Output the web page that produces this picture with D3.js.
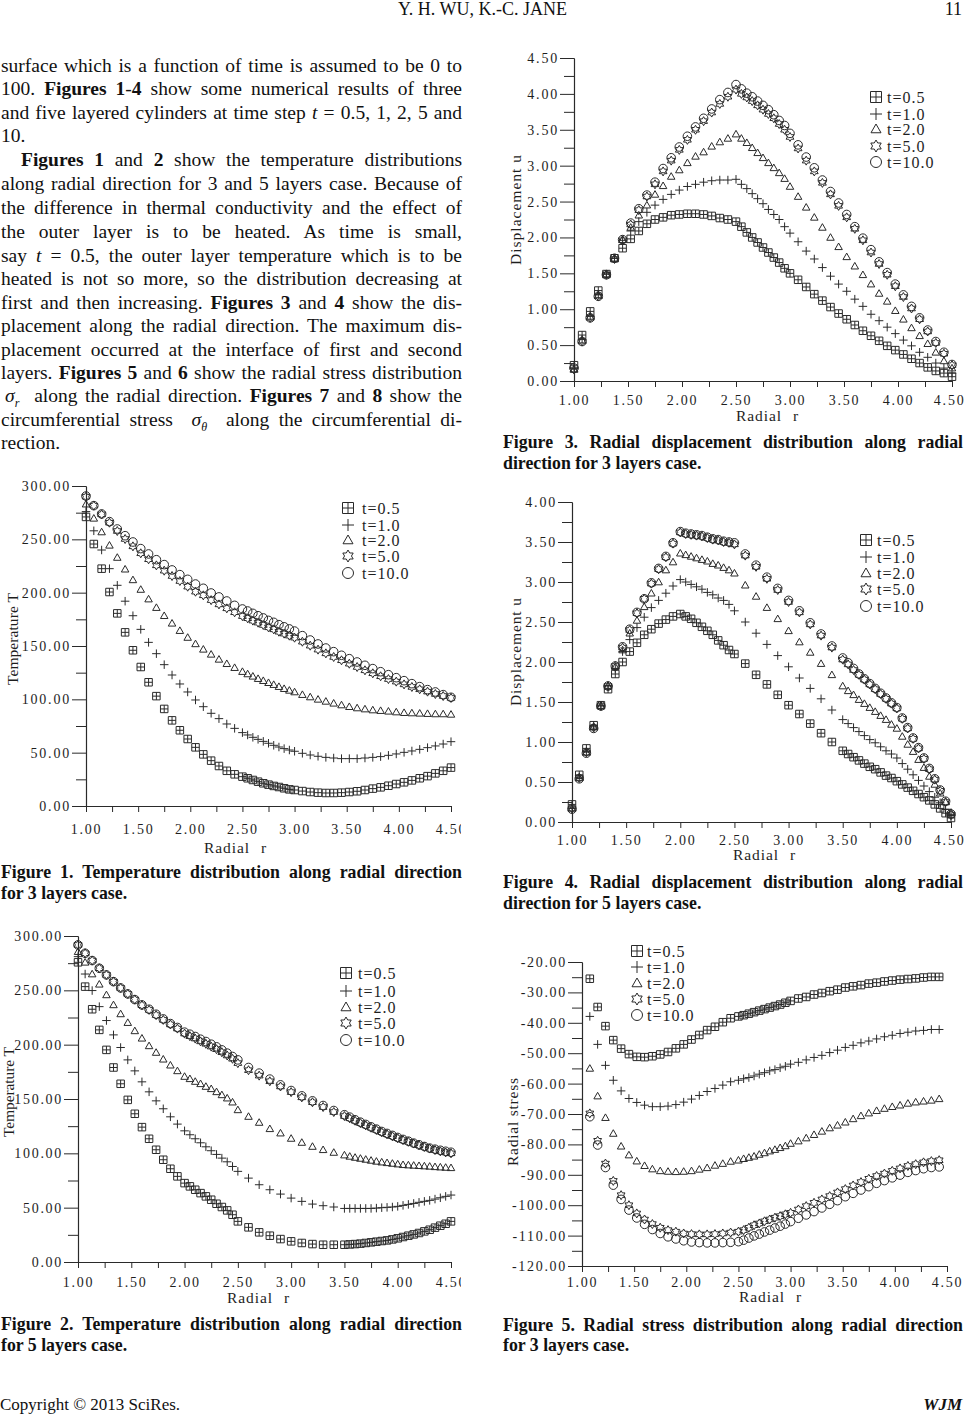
<!DOCTYPE html>
<html><head><meta charset="utf-8">
<script src="https://cdn.jsdelivr.net/npm/d3@7"></script>
<style>
html,body{margin:0;padding:0;background:#fff;}
#page{position:relative;width:966px;height:1414px;overflow:hidden;font-family:"Liberation Serif","Times New Roman",serif;color:#111;background:#fff;}
#page div.tl{position:absolute;white-space:pre;}
</style></head>
<body><div id="page"></div>
<script>
// ---------------- DATA ----------------
const seriesLabels = ["t=0.5","t=1.0","t=2.0","t=5.0","t=10.0"];
const markerTypes  = ["boxplus","plus","tri","star","circ"];

const xMajorTicks = [1.0,1.5,2.0,2.5,3.0,3.5,4.0,4.5];
const xMinorTicks = [1.25,1.75,2.25,2.75,3.25,3.75,4.25];
const tempMajorTicks = [0,50,100,150,200,250,300];
const tempMinorTicks = [25,75,125,175,225,275];
const disp3MajorTicks = [0,0.5,1.0,1.5,2.0,2.5,3.0,3.5,4.0,4.5];
const disp3MinorTicks = [0.25,0.75,1.25,1.75,2.25,2.75,3.25,3.75,4.25];
const disp5MajorTicks = [0,0.5,1.0,1.5,2.0,2.5,3.0,3.5,4.0];
const disp5MinorTicks = [0.25,0.75,1.25,1.75,2.25,2.75,3.25,3.75];
const stressMajorTicks = [-120,-110,-100,-90,-80,-70,-60,-50,-40,-30,-20];
const stressMinorTicks = [-115,-105,-95,-85,-75,-65,-55,-45,-35,-25];

// radial node positions (3-layer and 5-layer meshes)
const r3 = [1.000,1.075,1.150,1.225,1.300,1.375,1.450,1.525,1.600,1.675,1.750,1.825,1.900,1.975,2.050,2.125,2.200,2.275,2.350,2.425,2.500,
  2.55,2.60,2.65,2.70,2.75,2.80,2.85,2.90,2.95,3.00,
  3.075,3.150,3.225,3.300,3.375,3.450,3.525,3.600,3.675,3.750,3.825,3.900,3.975,4.050,4.125,4.200,4.275,4.350,4.425,4.500];
const r5 = [1.000,1.067,1.133,1.200,1.267,1.333,1.400,1.467,1.533,1.600,1.667,1.733,1.800,1.867,1.933,2.000,
  2.05,2.10,2.15,2.20,2.25,2.30,2.35,2.40,2.45,2.50,
  2.6,2.7,2.8,2.9,3.0,3.1,3.2,3.3,3.4,3.5,
  3.55,3.60,3.65,3.70,3.75,3.80,3.85,3.90,3.95,4.00,
  4.05,4.10,4.15,4.20,4.25,4.30,4.35,4.40,4.45,4.50];
const r3s = [1.075,1.150,1.225,1.300,1.375,1.450,1.525,1.600,1.675,1.750,1.825,1.900,1.975,2.050,2.125,2.200,2.275,2.350,2.425,2.500,
  2.55,2.60,2.65,2.70,2.75,2.80,2.85,2.90,2.95,3.00,
  3.075,3.150,3.225,3.300,3.375,3.450,3.525,3.600,3.675,3.750,3.825,3.900,3.975,4.050,4.125,4.200,4.275,4.350,4.425];

// Figure 1: temperature, 3 layers
const fig1T05 = [271,245.6,222.5,200.6,180.6,162.8,146,130.3,116,103,91,80.3,71,62.8,55,48.4,42.5,37.5,33,29.7,27.5,
  26,24.4,22.8,21.3,20,18.8,17.8,16.6,15.6,15,
  14,13.1,12.5,12.2,12.2,12.5,13.1,13.8,15,16.3,17.5,19,20.6,22.2,24,26,28,30.6,33,36];
const fig1T1 = [276,258,240,222.5,206.9,192,178.4,165.6,153.4,142.8,132.5,122.8,114.4,106.9,99.4,93.1,86.9,81.9,76.9,72.8,68.8,
  66.6,64.4,62.5,60.6,58.8,56.9,55.3,53.8,52.5,51.3,
  49.4,47.8,46.6,45.6,45,44.4,44.4,44.4,45,45.6,46.3,47.5,48.8,50.3,51.6,53.1,54.7,56.3,58.1,60.3];
const fig1T2 = [283,269.7,256.9,244.4,233,222,212,203,194,186,178.4,171.3,164.4,158,152,146.9,142.2,137.5,133.4,129.7,126,
  123.8,121.6,119.4,117.5,115.6,113.8,111.9,110,108.4,106.9,
  104.4,102.2,100,98.1,96.3,94.7,93.1,91.9,90.9,90,89.4,88.8,88.1,87.5,87.2,86.9,86.6,86.3,86.3,85.9];
const fig1T5 = [290,281.6,273.4,265.6,257.8,250.3,243.4,236.9,231.3,225.6,220.6,215.6,210.9,205.6,200.9,197.5,193,189,185.3,181.6,178,
  176,173.8,171.9,169.7,167.5,165.6,163.4,161.6,159.7,157.8,
  154,150.3,146.6,143.1,139.7,136.6,133.4,130.3,127.2,124.4,121.6,119,116.6,114,111.6,109.4,107.2,105,103.1,101.3];
const fig1T10 = [290.6,281.6,273.8,266.6,259.7,253.4,247.5,241.3,236.3,230.9,226.3,221.3,216.9,212.5,208.1,204.1,199.7,196,192.2,188.1,184.7,
  182.8,180.6,178.4,176.3,174,172.2,170,168,166,164,
  159.7,155.6,151.9,148.1,144.7,141.3,138.1,135,131.9,128.8,125.9,123.1,120.3,117.5,114.7,111.9,109.1,106.9,104.4,101.9];

// Figure 2: temperature, 5 layers
const fig2T05 = [275.8,253.4,232.6,213.6,195.2,179,164,149.2,136.4,124.1,113.4,103.3,94.1,85.8,78.8,72.6,
  69.6,66.5,63.4,60.4,57.3,53.6,50.6,47.5,43.5,37.4,
  31.9,27.3,24.2,21.1,19,17.5,16.5,15.9,15.9,15.9,
  16.2,16.5,16.9,17.5,18.1,18.7,19.3,19.9,20.8,21.8,
  23,24.2,25.4,26.7,28.2,29.7,31.6,33.4,35.2,37.4];
const fig2T1 = [281,265,249.8,235,222.2,209,197.4,186,175.9,165.8,156.6,148.3,141,133.6,126.9,120.7,
  117.1,113.4,109.7,106,102.4,99,95.6,92.2,87.9,83.4,
  77.2,71.1,66.5,62.5,58.8,55.8,53.3,51.8,50.6,49.3,
  49.3,49.3,49.3,49.3,49.3,49.6,50,50.3,50.6,51.2,
  52.1,53,53.9,54.9,55.8,56.7,57.9,59.1,60.4,61.6];
const fig2T2 = [285.6,275.8,265,255.6,245.8,236.6,228.3,220.3,212.7,205.9,198.9,192.8,186.6,181.1,175.9,170.7,
  168.6,166.1,164,161.5,159.4,156.6,153.8,150.8,147.1,140,
  133.9,128.4,122.6,118.6,113.7,110,106.3,103.3,100.8,98.4,
  97.2,96.2,95.3,94.4,93.5,92.6,91.9,91.3,90.7,90.1,
  89.5,89.2,88.9,88.6,88.3,88,87.6,87.3,87,86.7];
const fig2T5 = [291.8,284.1,277.4,270.3,264.2,258,252.2,246.7,241.5,236.3,232,227.2,222.8,218.6,214.8,210.2,
  207.8,205.6,203,200.8,198.2,195.8,193,190,187,183,
  176.5,171.5,166.3,161.5,156.3,151.5,147,142.6,138,134.3,
  132.2,130,127.8,125.7,123.6,121.5,119.4,117.5,115.7,113.9,
  112.2,110.6,109,107.4,105.9,104.4,103,101.8,100.8,100];
const fig2T10 = [291.8,284.1,277.4,270.3,264.2,258,252.2,246.7,241.5,236.6,232.6,228,223.7,219.4,215.8,211.5,
  209.6,207.5,205,202.9,200.4,198,195.2,192.2,189.1,186,
  179,173.8,168.3,163,157.8,152.9,148.3,144,139.4,135.5,
  133.3,130.9,128.7,126.6,124.4,122.3,120.1,118.3,116.5,114.6,
  112.8,111.2,109.4,107.9,106.3,104.8,103.8,102.8,101.9,101];

// Figure 3: displacement, 3 layers
const fig3U05 = [0.22,0.64,0.97,1.26,1.49,1.71,1.85,1.98,2.09,2.19,2.25,2.28,2.31,2.32,2.33,2.33,2.32,2.30,2.27,2.25,2.22,
  2.15,2.07,2.00,1.93,1.86,1.79,1.72,1.65,1.57,1.50,
  1.41,1.31,1.21,1.12,1.03,0.94,0.86,0.78,0.70,0.63,0.56,0.49,0.43,0.37,0.31,0.25,0.19,0.14,0.11,0.06];
const fig3U1 = [0.17,0.58,0.90,1.20,1.49,1.71,1.96,2.09,2.22,2.35,2.45,2.53,2.60,2.66,2.71,2.74,2.77,2.79,2.80,2.80,2.81,
  2.74,2.68,2.61,2.54,2.47,2.39,2.32,2.25,2.15,2.06,
  1.94,1.81,1.70,1.58,1.46,1.35,1.25,1.14,1.04,0.93,0.84,0.75,0.66,0.57,0.49,0.40,0.33,0.25,0.18,0.11];
const fig3U2 = [0.16,0.57,0.90,1.20,1.49,1.71,1.97,2.14,2.31,2.45,2.60,2.72,2.85,2.94,3.04,3.13,3.19,3.27,3.33,3.38,3.44,
  3.38,3.32,3.25,3.18,3.11,3.04,2.97,2.90,2.82,2.71,
  2.57,2.42,2.28,2.14,2.00,1.87,1.73,1.60,1.48,1.35,1.22,1.11,0.98,0.86,0.74,0.63,0.52,0.40,0.28,0.18];
const fig3U5 = [0.16,0.55,0.88,1.18,1.48,1.70,1.96,2.18,2.38,2.57,2.74,2.92,3.07,3.22,3.36,3.50,3.62,3.74,3.86,3.96,4.06,
  4.00,3.95,3.90,3.84,3.78,3.72,3.66,3.58,3.50,3.40,
  3.24,3.07,2.92,2.76,2.60,2.44,2.28,2.12,1.96,1.79,1.63,1.48,1.32,1.17,1.01,0.86,0.69,0.53,0.38,0.22];
const fig3U10 = [0.18,0.55,0.88,1.18,1.48,1.71,1.97,2.20,2.40,2.59,2.77,2.96,3.11,3.26,3.41,3.54,3.66,3.79,3.92,4.02,4.13,
  4.07,4.01,3.96,3.90,3.84,3.78,3.71,3.63,3.56,3.45,
  3.29,3.12,2.97,2.80,2.64,2.48,2.32,2.15,1.99,1.83,1.66,1.51,1.35,1.20,1.04,0.88,0.71,0.55,0.40,0.23];

// Figure 4: displacement, 5 layers
const fig4U05 = [0.22,0.59,0.92,1.21,1.46,1.66,1.85,2.00,2.13,2.24,2.34,2.41,2.48,2.53,2.57,2.60,
  2.57,2.54,2.49,2.44,2.39,2.34,2.27,2.21,2.15,2.10,
  1.98,1.84,1.72,1.59,1.46,1.35,1.23,1.11,1.00,0.89,
  0.85,0.81,0.77,0.73,0.69,0.66,0.62,0.58,0.55,0.51,
  0.47,0.43,0.39,0.35,0.31,0.27,0.22,0.17,0.11,0.05];
const fig4U1 = [0.17,0.56,0.88,1.19,1.45,1.70,1.92,2.13,2.28,2.43,2.56,2.68,2.77,2.86,2.95,3.03,
  3.00,2.97,2.94,2.91,2.87,2.84,2.80,2.77,2.72,2.64,
  2.50,2.36,2.22,2.08,1.94,1.80,1.67,1.54,1.40,1.28,
  1.23,1.18,1.13,1.08,1.03,0.99,0.94,0.89,0.85,0.80,
  0.73,0.66,0.59,0.52,0.45,0.38,0.31,0.24,0.16,0.08];
const fig4U2 = [0.17,0.55,0.87,1.19,1.45,1.70,1.94,2.15,2.36,2.52,2.69,2.86,3.00,3.15,3.25,3.36,
  3.34,3.32,3.30,3.28,3.26,3.23,3.21,3.18,3.15,3.11,
  2.96,2.82,2.68,2.54,2.39,2.25,2.12,1.98,1.84,1.70,
  1.64,1.59,1.53,1.48,1.43,1.38,1.33,1.28,1.22,1.17,
  1.07,0.97,0.88,0.78,0.68,0.57,0.47,0.36,0.25,0.12];
const fig4U5 = [0.17,0.55,0.87,1.18,1.45,1.70,1.95,2.18,2.40,2.61,2.79,2.98,3.16,3.31,3.48,3.62,
  3.60,3.59,3.58,3.57,3.55,3.53,3.52,3.50,3.49,3.47,
  3.33,3.19,3.04,2.90,2.75,2.62,2.47,2.33,2.18,2.03,
  1.97,1.90,1.84,1.78,1.72,1.66,1.60,1.54,1.48,1.42,
  1.29,1.17,1.04,0.92,0.79,0.66,0.53,0.39,0.25,0.09];
const fig4U10 = [0.16,0.54,0.86,1.17,1.45,1.70,1.95,2.19,2.41,2.62,2.79,2.99,3.17,3.32,3.49,3.63,
  3.61,3.60,3.59,3.58,3.56,3.54,3.53,3.51,3.50,3.49,
  3.35,3.21,3.06,2.92,2.77,2.64,2.49,2.35,2.20,2.05,
  1.99,1.92,1.85,1.79,1.73,1.67,1.61,1.55,1.49,1.43,
  1.30,1.18,1.05,0.93,0.80,0.67,0.54,0.40,0.26,0.10];

// Figure 5: radial stress, 3 layers
const fig5S05 = [-25.5,-34.8,-41.1,-45.7,-48.5,-50.3,-51.2,-51.3,-51,-50.4,-49.6,-48.4,-47.1,-45.5,-44,-42.4,-41.3,-39.8,-38.5,-37.9,
  -37.5,-37,-36.5,-36,-35.5,-35,-34.5,-34,-33.4,-32.8,
  -32,-31.5,-30.7,-30.2,-29.6,-29.1,-28.4,-28,-27.6,-27.1,-26.8,-26.4,-26.1,-25.8,-25.6,-25.4,-25.1,-24.9,-24.9];
const fig5S1 = [-37.9,-47.1,-54,-58.9,-62.4,-64.9,-66.2,-67.1,-67.6,-67.6,-67.4,-66.9,-66.1,-65.1,-63.9,-62.6,-61.6,-60.5,-59.4,-58.9,
  -58.4,-58,-57.5,-56.9,-56.4,-55.8,-55.4,-54.8,-54.3,-53.6,
  -53,-52.2,-51.4,-50.7,-49.8,-49,-48.1,-47.4,-46.6,-46,-45.3,-44.6,-44.1,-43.5,-43.1,-42.7,-42.5,-42.2,-42.2];
const fig5S2 = [-55,-64.1,-71.2,-76.4,-80.6,-83.5,-85.5,-87,-88.1,-88.7,-88.9,-89,-88.9,-88.7,-88.2,-87.7,-86.9,-86.3,-85.6,-85.2,
  -84.7,-84.3,-83.9,-83.3,-82.8,-82.2,-81.7,-81.1,-80.5,-79.7,
  -78.9,-77.9,-76.8,-75.7,-74.6,-73.7,-72.7,-71.6,-70.6,-69.7,-68.9,-68.2,-67.6,-67.1,-66.5,-66.1,-65.8,-65.5,-65];
const fig5S5 = [-69.8,-78.8,-86.3,-92,-96.7,-100,-102.7,-104.7,-106.2,-107.4,-108.2,-108.7,-109.3,-109.5,-109.6,-109.6,-109.5,-109.3,-109,-108.7,
  -108.2,-107.4,-106.6,-106,-105.3,-104.7,-104.1,-103.6,-103,-102.5,
  -101.4,-100.3,-99.2,-98.1,-97,-95.8,-94.7,-93.5,-92.4,-91.3,-90.4,-89.6,-88.7,-87.9,-87.1,-86.5,-85.9,-85.5,-85.2];
const fig5S10 = [-70.9,-80.2,-87.6,-93.4,-98.1,-101.6,-104.2,-106.3,-108,-109.3,-110.4,-111.1,-111.7,-112.1,-112.3,-112.4,-112.4,-112.3,-112.2,-112,
  -111.5,-110.8,-110.1,-109.5,-108.8,-108.2,-107.5,-106.9,-106.2,-105.4,
  -104.3,-103.2,-102.1,-100.9,-99.7,-98.5,-97.2,-96.1,-95,-93.9,-92.8,-91.9,-91,-90.1,-89.2,-88.6,-88,-87.6,-87.4];

// ---------------- TEXT ----------------
const headerText = "Y. H. WU, K.-C. JANE";
const pageNumber = "11";
const footerLeft = "Copyright \u00A9 2013 SciRes.";
const footerRight = "WJM";

const bodyLines = [
  {y:72,  x:1, w:461, j:true, segs:[["surface which is a function of time is assumed to be 0 to"]]},
  {y:95,  x:1, w:461, j:true, segs:[["100. "],["Figures 1","b"],["-"],["4","b"],[" show some numerical results of three"]]},
  {y:119, x:1, w:461, j:true, segs:[["and five layered cylinders at time step "],["t","i"],[" = 0.5, 1, 2, 5 and"]]},
  {y:142, x:1, w:461, j:false, segs:[["10."]]},
  {y:166, x:21, w:441, j:true, segs:[["Figures 1","b"],[" and "],["2","b"],[" show the temperature distributions"]]},
  {y:190, x:1, w:461, j:true, segs:[["along radial direction for 3 and 5 layers case. Because of"]]},
  {y:214, x:1, w:461, j:true, segs:[["the difference in thermal conductivity and the effect of"]]},
  {y:238, x:1, w:461, j:true, segs:[["the outer layer is to be heated. As time is small,"]]},
  {y:262, x:1, w:461, j:true, segs:[["say "],["t","i"],[" = 0.5, the outer layer temperature which is to be"]]},
  {y:285, x:1, w:461, j:true, segs:[["heated is not so more, so the distribution decreasing at"]]},
  {y:309, x:1, w:461, j:true, segs:[["first and then increasing. "],["Figures 3","b"],[" and "],["4","b"],[" show the dis-"]]},
  {y:332, x:1, w:461, j:true, segs:[["placement along the radial direction. The maximum dis-"]]},
  {y:356, x:1, w:461, j:true, segs:[["placement occurred at the interface of first and second"]]},
  {y:379, x:1, w:461, j:true, segs:[["layers. "],["Figures 5","b"],[" and "],["6","b"],[" show the radial stress distribution"]]},
  {y:402, x:5, w:457, j:true, segs:[["\u03C3","i"],["r","sub"],["  along the radial direction. "],["Figures 7","b"],[" and "],["8","b"],[" show the"]]},
  {y:426, x:1, w:461, j:true, segs:[["circumferential stress  "],["\u03C3","i"],["\u03B8","sub"],["  along the circumferential di-"]]},
  {y:449, x:1, w:461, j:false, segs:[["rection."]]}
];

const captions = [
  {x:1,   w:461, y1:879,  y2:900,  l1:"Figure 1. Temperature distribution along radial direction", l2:"for 3 layers case."},
  {x:1,   w:461, y1:1331, y2:1352, l1:"Figure 2. Temperature distribution along radial direction", l2:"for 5 layers case."},
  {x:503, w:460, y1:449,  y2:470,  l1:"Figure 3. Radial displacement distribution along radial", l2:"direction for 3 layers case."},
  {x:503, w:460, y1:889,  y2:910,  l1:"Figure 4. Radial displacement distribution along radial", l2:"direction for 5 layers case."},
  {x:503, w:460, y1:1332, y2:1352, l1:"Figure 5. Radial stress distribution along radial direction", l2:"for 3 layers case."}
];

// ---------------- LAYOUT / DRAW ----------------
const W = 966, H = 1414;
const page = d3.select("#page");

function textLine(l, fs, weight) {
  const d = page.append("div").attr("class","tl")
    .style("left", l.x + "px")
    .style("top", (l.y - 0.8375*fs) + "px")
    .style("font-size", fs + "px")
    .style("line-height", fs + "px")
    .style("font-weight", weight || "normal");
  l.segs.forEach(s => {
    const sp = d.append("span").text(s[0]);
    if (s[1] === "b") sp.style("font-weight","bold");
    if (s[1] === "i") sp.style("font-style","italic");
    if (s[1] === "sub") sp.style("font-style","italic").style("font-size", (fs*0.62)+"px")
        .style("position","relative").style("top", (fs*0.25)+"px");
  });
  if (l.j) {
    const nat = d.node().getBoundingClientRect().width;
    const txt = l.segs.map(s => s[0]).join("");
    const n = (txt.match(/ /g) || []).length;
    if (n > 0) d.style("word-spacing", ((l.w - nat) / n) + "px");
  }
  return d;
}

// header & footer
page.append("div").attr("class","tl").style("left","0px").style("width","965px").style("text-align","center")
  .style("top",(15-0.8375*18)+"px").style("font-size","18px").style("line-height","18px").text(headerText);
page.append("div").attr("class","tl").style("right","4px")
  .style("top",(15-0.8375*18)+"px").style("font-size","18px").style("line-height","18px").text(pageNumber);
page.append("div").attr("class","tl").style("left","0px")
  .style("top",(1410-0.8375*17)+"px").style("font-size","17px").style("line-height","17px").text(footerLeft);
page.append("div").attr("class","tl").style("right","4px")
  .style("top",(1410-0.8375*17)+"px").style("font-size","17px").style("line-height","17px")
  .style("font-weight","bold").style("font-style","italic").text(footerRight);

bodyLines.forEach(l => textLine(l, 19.5));
captions.forEach(c => {
  textLine({x:c.x, y:c.y1, w:c.w, j:true, segs:[[c.l1]]}, 17.8, "bold");
  textLine({x:c.x, y:c.y2, w:c.w, j:false, segs:[[c.l2]]}, 17.8, "bold");
});

// charts
const svg = page.append("svg").attr("width", W).attr("height", H)
  .style("position","absolute").style("left","0px").style("top","0px");
svg.append("defs").append("clipPath").attr("id","clipL")
  .append("rect").attr("x",0).attr("y",0).attr("width",461).attr("height",H);

function markerPath(type, s) {
  const h = s/2;
  switch (type) {
    case "boxplus": return `M${-h},${-h}H${h}V${h}H${-h}ZM0,${-h}V${h}M${-h},0H${h}`;
    case "plus": return `M${-h},0H${h}M0,${-h}V${h}`;
    case "tri": return `M0,${-h}L${h},${h*0.75}H${-h}Z`;
    case "star": {
      const pts = [];
      for (let k = 0; k < 12; k++) {
        const a = -Math.PI/2 + k*Math.PI/6;
        const rr = (k % 2) ? h/Math.sqrt(3) : h;
        pts.push((rr*Math.cos(a)).toFixed(2) + "," + (rr*Math.sin(a)).toFixed(2));
      }
      return "M" + pts.join("L") + "Z";
    }
    case "circ": return `M${h},0A${h},${h} 0 1,1 ${-h},0A${h},${h} 0 1,1 ${h},0Z`;
  }
}
const plotSize = {boxplus:7.5, plus:8.5, tri:7.5, star:9, circ:8.6};
const legSize  = {boxplus:11, plus:12, tri:10, star:12, circ:11};
const ink = "#2a2a2a";

const figures = [
  {r:r3, series:[fig1T05,fig1T1,fig1T2,fig1T5,fig1T10], clip:true,
   x0:86, x1:451, yTop:486, yBot:806, yDom:[0,300], yMaj:tempMajorTicks, yMin:tempMinorTicks,
   tickPad:12, tickLs:1.8, yTitle:"Temperature T", yt:[12,639,92], xtX:204, xtBase:853,
   leg:{sx:348, tx:362, ys:[508,525,540,556,573]}},
  {r:r5, series:[fig2T05,fig2T1,fig2T2,fig2T5,fig2T10], clip:true,
   x0:78, x1:451, yTop:936, yBot:1262, yDom:[0,300], yMaj:tempMajorTicks, yMin:tempMinorTicks,
   tickPad:9, tickLs:1.7, yTitle:"Temperature T", yt:[8,1092,90], xtX:227, xtBase:1303,
   leg:{sx:346, tx:358, ys:[973,991,1007,1023,1040]}},
  {r:r3, series:[fig3U05,fig3U1,fig3U2,fig3U5,fig3U10], clip:false,
   x0:574, x1:952, yTop:58, yBot:381, yDom:[0,4.5], yMaj:disp3MajorTicks, yMin:disp3MinorTicks,
   tickPad:8, tickLs:1.8, yTitle:"Displacement u", yt:[515,210,110], xtX:736, xtBase:421,
   leg:{sx:876, tx:887, ys:[97,114,129,146,162]}},
  {r:r5, series:[fig4U05,fig4U1,fig4U2,fig4U5,fig4U10], clip:false,
   x0:572, x1:951, yTop:502, yBot:822, yDom:[0,4.0], yMaj:disp5MajorTicks, yMin:disp5MinorTicks,
   tickPad:7, tickLs:1.8, yTitle:"Displacement u", yt:[515,652,108], xtX:733, xtBase:860,
   leg:{sx:866, tx:877, ys:[540,557,573,589,606]}},
  {r:r3s, series:[fig5S05,fig5S1,fig5S2,fig5S5,fig5S10], clip:false,
   x0:582, x1:947, yTop:962, yBot:1266, yDom:[-120,-20], yMaj:stressMajorTicks, yMin:stressMinorTicks,
   tickPad:5, tickLs:1.7, yTitle:"Radial stress", yt:[512,1122,88], xtX:739, xtBase:1302,
   leg:{sx:637, tx:647, ys:[951,967,983,999,1015]}}
];

function styleAxis(g, ls) {
  g.attr("color", ink).attr("font-family", null).attr("font-size", null);
  g.selectAll("path.domain").attr("stroke-width", 1.1);
  g.selectAll(".tick line").attr("stroke-width", 1);
  g.selectAll("text").attr("font-family", "'Liberation Serif','Times New Roman',serif")
    .attr("font-size", 14).style("letter-spacing", ls + "px").attr("fill", "#1e1e1e");
}

figures.forEach(f => {
  const g = svg.append("g");
  if (f.clip) g.attr("clip-path", "url(#clipL)");
  const x = d3.scaleLinear().domain([1, 4.5]).range([f.x0, f.x1]);
  const y = d3.scaleLinear().domain(f.yDom).range([f.yBot, f.yTop]);

  // minor ticks
  g.append("g").attr("transform", `translate(${f.x0},0)`)
    .call(d3.axisLeft(y).tickValues(f.yMin).tickSize(10).tickSizeOuter(0).tickFormat(""))
    .call(s => styleAxis(s, f.tickLs));
  g.append("g").attr("transform", `translate(0,${f.yBot})`)
    .call(d3.axisBottom(x).tickValues(xMinorTicks).tickSize(6).tickSizeOuter(0).tickFormat(""))
    .call(s => styleAxis(s, f.tickLs));
  // major ticks
  g.append("g").attr("transform", `translate(${f.x0},0)`)
    .call(d3.axisLeft(y).tickValues(f.yMaj).tickSize(14).tickPadding(1).tickSizeOuter(0).tickFormat(d => d.toFixed(2)))
    .call(s => styleAxis(s, f.tickLs));
  const xa = g.append("g").attr("transform", `translate(0,${f.yBot})`)
    .call(d3.axisBottom(x).tickValues(xMajorTicks).tickSize(6).tickPadding(f.tickPad).tickSizeOuter(0).tickFormat(d => d.toFixed(2)))
    .call(s => styleAxis(s, f.tickLs));
  // keep the last label inside the page on the right column
  if (!f.clip) {
    xa.selectAll(".tick text").each(function() {
      const bb = this.getBBox();
      const tx = x(+d3.select(this.parentNode).datum());
      const right = tx + bb.x + bb.width;
      if (right > W - 1) d3.select(this).attr("x", (W - 1) - right);
    });
  }

  // axis titles
  g.append("text").attr("x", f.xtX).attr("y", f.xtBase)
    .attr("font-family","'Liberation Serif',serif").attr("font-size",15.5).attr("fill","#1e1e1e")
    .attr("textLength",45).attr("lengthAdjust","spacing").text("Radial");
  g.append("text").attr("x", f.xtX + 57).attr("y", f.xtBase)
    .attr("font-family","'Liberation Serif',serif").attr("font-size",15.5).attr("fill","#1e1e1e").text("r");
  g.append("text").attr("transform", `translate(${f.yt[0]},${f.yt[1]}) rotate(-90)`)
    .attr("text-anchor","middle").attr("dominant-baseline","central")
    .attr("font-family","'Liberation Serif',serif").attr("font-size",15.5).attr("fill","#1e1e1e")
    .attr("textLength", f.yt[2]).attr("lengthAdjust","spacing").text(f.yTitle);

  // data markers
  f.series.forEach((vals, si) => {
    const type = markerTypes[si];
    const pts = f.r.map((rv, i) => ({r: rv, v: vals[i]}));
    g.append("g").selectAll("path").data(pts).join("path")
      .attr("transform", d => `translate(${x(d.r).toFixed(2)},${y(d.v).toFixed(2)})`)
      .attr("d", markerPath(type, plotSize[type]))
      .attr("fill","none").attr("stroke", ink).attr("stroke-width", 1);
  });

  // legend
  const lg = g.append("g");
  seriesLabels.forEach((lab, si) => {
    const type = markerTypes[si];
    lg.append("path").attr("transform", `translate(${f.leg.sx},${f.leg.ys[si]})`)
      .attr("d", markerPath(type, legSize[type])).attr("fill","none").attr("stroke", ink).attr("stroke-width",1);
    lg.append("text").attr("x", f.leg.tx).attr("y", f.leg.ys[si] + 5.5)
      .attr("font-family","'Liberation Serif',serif").attr("font-size",16).style("letter-spacing","1px")
      .attr("fill","#1e1e1e").text(lab);
  });
});
</script>
</body></html>
